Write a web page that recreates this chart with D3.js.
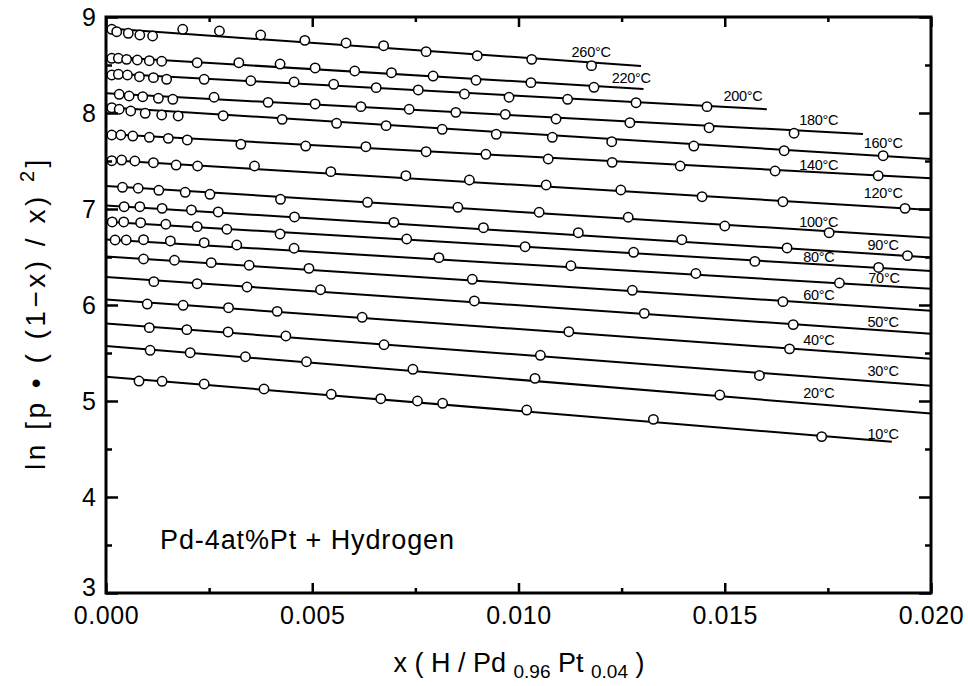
<!DOCTYPE html>
<html>
<head>
<meta charset="utf-8">
<script src="https://cdn.jsdelivr.net/npm/d3@7/dist/d3.min.js"></script>
<style>
  html, body { margin: 0; padding: 0; background: #fff; }
  svg { display: block; }
  text { font-family: "Liberation Sans", Arial, sans-serif; fill: #000; }
</style>
</head>
<body>
<svg id="chart" width="968" height="686"></svg>
<script>
// Temperatures (°C), top line to bottom line
const temps = [260, 220, 200, 180, 160, 140, 120, 100, 90, 80, 70, 60, 50, 40, 30, 20, 10];

// Measured points per isotherm: [x, ln(p·((1-x)/x)^2)]
const pts260 = [[0.00014,8.872],[0.00026,8.847],[0.00054,8.830],[0.00082,8.8125],[0.00113,8.802],[0.00186,8.872],[0.00275,8.854],[0.00375,8.8125],[0.00482,8.757],[0.00582,8.729],[0.00673,8.701],[0.00776,8.639],[0.00900,8.597],[0.01032,8.559],[0.01177,8.493]];
const pts220 = [[0.00014,8.570],[0.00030,8.570],[0.00050,8.559],[0.00076,8.552],[0.00105,8.545],[0.00135,8.539],[0.00221,8.524],[0.00322,8.524],[0.00422,8.510],[0.00507,8.469],[0.00603,8.4375],[0.00692,8.420],[0.00793,8.385],[0.00897,8.341],[0.01030,8.316],[0.01183,8.268]];
const pts200 = [[0.00014,8.396],[0.00030,8.403],[0.00052,8.396],[0.00081,8.378],[0.00115,8.368],[0.00147,8.351],[0.00238,8.351],[0.00351,8.336],[0.00456,8.323],[0.00552,8.299],[0.00655,8.264],[0.00757,8.240],[0.00869,8.198],[0.00977,8.164],[0.01119,8.143],[0.01285,8.107],[0.01457,8.066]];
const pts180 = [[0.00032,8.195],[0.00056,8.177],[0.00089,8.170],[0.00127,8.153],[0.00162,8.143],[0.00262,8.164],[0.00393,8.111],[0.00507,8.094],[0.00618,8.066],[0.00735,8.039],[0.00848,8.007],[0.00968,7.986],[0.01091,7.9375],[0.01270,7.899],[0.01462,7.847],[0.01668,7.789]];
const pts160 = [[0.00014,8.055],[0.00032,8.039],[0.00060,8.021],[0.00095,7.997],[0.00135,7.979],[0.00175,7.969],[0.00284,7.972],[0.00427,7.934],[0.00559,7.893],[0.00679,7.868],[0.00815,7.830],[0.00946,7.778],[0.01082,7.747],[0.01226,7.701],[0.01425,7.656],[0.01644,7.607],[0.01884,7.555]];
const pts140 = [[0.00014,7.771],[0.00036,7.771],[0.00065,7.760],[0.00105,7.747],[0.00151,7.736],[0.00197,7.719],[0.00327,7.674],[0.00484,7.656],[0.00630,7.649],[0.00776,7.597],[0.00921,7.570],[0.01072,7.521],[0.01227,7.486],[0.01392,7.448],[0.01622,7.396],[0.01872,7.347]];
const pts120 = [[0.00014,7.503],[0.00038,7.510],[0.00070,7.500],[0.00115,7.482],[0.00170,7.458],[0.00222,7.448],[0.00360,7.448],[0.00545,7.389],[0.00727,7.347],[0.00881,7.302],[0.01067,7.250],[0.01248,7.198],[0.01445,7.128],[0.01641,7.076],[0.01937,7.007]];
const pts100 = [[0.00040,7.226],[0.00078,7.216],[0.00128,7.195],[0.00192,7.174],[0.00252,7.153],[0.00423,7.101],[0.00634,7.070],[0.00853,7.018],[0.01050,6.966],[0.01266,6.914],[0.01500,6.823],[0.01753,6.753]];
const pts90 = [[0.00044,7.024],[0.00082,7.024],[0.00136,7.007],[0.00207,6.990],[0.00272,6.969],[0.00457,6.917],[0.00698,6.861],[0.00915,6.805],[0.01145,6.753],[0.01396,6.680],[0.01651,6.594],[0.01943,6.514]];
const pts80 = [[0.00015,6.865],[0.00043,6.865],[0.00084,6.857],[0.00145,6.841],[0.00221,6.816],[0.00293,6.789],[0.00422,6.740],[0.00729,6.6875],[0.01016,6.607],[0.01279,6.549],[0.01573,6.454],[0.01873,6.391]];
const pts70 = [[0.00022,6.677],[0.00049,6.677],[0.00091,6.680],[0.00156,6.667],[0.00238,6.649],[0.00317,6.625],[0.00456,6.591],[0.00807,6.493],[0.01127,6.409],[0.01430,6.328],[0.01778,6.229]];
const pts60 = [[0.00091,6.479],[0.00166,6.466],[0.00255,6.441],[0.00347,6.414],[0.00492,6.382],[0.00888,6.268],[0.01276,6.153],[0.01641,6.035]];
const pts50 = [[0.00116,6.243],[0.00221,6.222],[0.00342,6.1875],[0.00520,6.159],[0.00893,6.042],[0.01305,5.913],[0.01666,5.796]];
const pts40 = [[0.00100,6.010],[0.00187,5.997],[0.00297,5.972],[0.00415,5.934],[0.00621,5.872],[0.01122,5.722],[0.01657,5.543]];
const pts30 = [[0.00105,5.764],[0.00196,5.743],[0.00296,5.719],[0.00436,5.677],[0.00674,5.586],[0.01053,5.476],[0.01584,5.266]];
const pts20 = [[0.00107,5.528],[0.00204,5.503],[0.00338,5.461],[0.00486,5.409],[0.00744,5.330],[0.01040,5.236],[0.01488,5.062]];
const pts10 = [[0.00080,5.208],[0.00136,5.205],[0.00238,5.177],[0.00383,5.125],[0.00546,5.070],[0.00666,5.024],[0.00755,5.000],[0.00816,4.976],[0.01020,4.906],[0.01327,4.809],[0.01735,4.629]];

const points = [pts260, pts220, pts200, pts180, pts160, pts140, pts120, pts100, pts90, pts80, pts70, pts60, pts50, pts40, pts30, pts20, pts10];

// Fitted straight lines: [x start, y start, x end, y end]
const fits = [
  [0, 8.882, 0.01297, 8.490],
  [0, 8.586, 0.01303, 8.250],
  [0, 8.414, 0.01602, 8.039],
  [0, 8.205, 0.01835, 7.781],
  [0, 8.059, 0.02000, 7.521],
  [0, 7.781, 0.02000, 7.320],
  [0, 7.510, 0.02000, 6.990],
  [0, 7.240, 0.02000, 6.701],
  [0, 7.036, 0.02000, 6.496],
  [0, 6.868, 0.02000, 6.354],
  [0, 6.682, 0.02000, 6.169],
  [0, 6.505, 0.02000, 5.941],
  [0, 6.292, 0.02000, 5.701],
  [0, 6.057, 0.02000, 5.441],
  [0, 5.807, 0.02000, 5.159],
  [0, 5.573, 0.02000, 4.870],
  [0, 5.253, 0.01905, 4.576]
];

// Where each temperature label sits (data coordinates of its centre)
const labelAt = [
  [0.01176, 8.635], [0.01273, 8.365], [0.01544, 8.177], [0.01728, 7.927],
  [0.01884, 7.6875], [0.01728, 7.458], [0.01884, 7.167], [0.01728, 6.865],
  [0.01884, 6.625], [0.01728, 6.500], [0.01886, 6.281], [0.01728, 6.104],
  [0.01884, 5.823], [0.01728, 5.635], [0.01884, 5.3125], [0.01728, 5.083],
  [0.01884, 4.656]
];

const xTicks = [0.000, 0.005, 0.010, 0.015, 0.020];
const xMinor = [0.0025, 0.0075, 0.0125, 0.0175];
const yTicks = [3, 4, 5, 6, 7, 8, 9];
const yMinor = [3.5, 4.5, 5.5, 6.5, 7.5, 8.5];

const svg = d3.select("#chart");
const L = 106, R = 931, T = 17, B = 593;

const x = d3.scaleLinear().domain([0, 0.02]).range([L, R]);
const y = d3.scaleLinear().domain([3, 9]).range([B, T]);

// Plot contents, clipped to the frame
svg.append("defs").append("clipPath").attr("id", "plotclip")
  .append("rect").attr("x", L).attr("y", T).attr("width", R - L).attr("height", B - T);

const plot = svg.append("g").attr("clip-path", "url(#plotclip)");

plot.selectAll("line.fit").data(fits).join("line")
  .attr("class", "fit")
  .attr("x1", d => x(d[0])).attr("y1", d => y(d[1]))
  .attr("x2", d => x(d[2])).attr("y2", d => y(d[3]))
  .attr("stroke", "#000").attr("stroke-width", 2);

points.forEach(series => {
  plot.append("g").selectAll("circle").data(series).join("circle")
    .attr("cx", d => x(d[0])).attr("cy", d => y(d[1]))
    .attr("r", 4.7)
    .attr("fill", "#fff").attr("stroke", "#000").attr("stroke-width", 1.5);
});

// Temperature labels
svg.append("g").selectAll("text").data(temps).join("text")
  .attr("x", (d, i) => x(labelAt[i][0]))
  .attr("y", (d, i) => y(labelAt[i][1]))
  .attr("text-anchor", "middle")
  .attr("dominant-baseline", "central")
  .style("font-size", "14.5px")
  .style("letter-spacing", "-0.3px")
  .text(d => d + "°C");

// Axes with inward ticks on all four sides
function styleAxis(g) {
  g.select(".domain").remove();
  g.selectAll(".tick line").attr("stroke", "#000").attr("stroke-width", 2.5);
}

svg.append("g").attr("transform", `translate(0,${B})`)
  .call(d3.axisBottom(x).tickValues(xTicks).tickSize(-10).tickPadding(13).tickFormat(d3.format(".3f")))
  .call(styleAxis)
  .call(g => g.selectAll("text").style("font-size", "25px").style("letter-spacing", "0.6px").attr("font-family", null));

svg.append("g").attr("transform", `translate(0,${B})`)
  .call(d3.axisBottom(x).tickValues(xMinor).tickSize(-5).tickFormat(""))
  .call(styleAxis);

svg.append("g").attr("transform", `translate(0,${T})`)
  .call(d3.axisTop(x).tickValues(xTicks).tickSize(-10).tickFormat(""))
  .call(styleAxis);
svg.append("g").attr("transform", `translate(0,${T})`)
  .call(d3.axisTop(x).tickValues(xMinor).tickSize(-5).tickFormat(""))
  .call(styleAxis);

svg.append("g").attr("transform", `translate(${L},0)`)
  .call(d3.axisLeft(y).tickValues(yTicks).tickSize(-12).tickPadding(10).tickFormat(d3.format("d")))
  .call(styleAxis)
  .call(g => g.selectAll("text").style("font-size", "25px").attr("font-family", null))
  .call(g => g.selectAll(".tick").filter(d => d === 3).select("text").attr("dy", "0.08em"));
svg.append("g").attr("transform", `translate(${L},0)`)
  .call(d3.axisLeft(y).tickValues(yMinor).tickSize(-6).tickFormat(""))
  .call(styleAxis);

svg.append("g").attr("transform", `translate(${R},0)`)
  .call(d3.axisRight(y).tickValues(yTicks).tickSize(-12).tickFormat(""))
  .call(styleAxis);
svg.append("g").attr("transform", `translate(${R},0)`)
  .call(d3.axisRight(y).tickValues(yMinor).tickSize(-6).tickFormat(""))
  .call(styleAxis);

// Frame
svg.append("rect")
  .attr("x", L).attr("y", T).attr("width", R - L).attr("height", B - T)
  .attr("fill", "none").attr("stroke", "#000").attr("stroke-width", 3);

// Alloy / gas annotation
svg.append("text")
  .attr("x", 160).attr("y", y(3.55))
  .attr("dominant-baseline", "central")
  .style("font-size", "27px")
  .style("letter-spacing", "0.9px")
  .text("Pd-4at%Pt + Hydrogen");

// X-axis title with subscripts
const xt = svg.append("text")
  .attr("x", 519).attr("y", 672)
  .attr("text-anchor", "middle")
  .style("font-size", "27px");
xt.append("tspan").text("x  ( H / Pd ");
xt.append("tspan").attr("dy", 6).style("font-size", "19px").text("0.96");
xt.append("tspan").attr("dy", -6).text(" Pt ");
xt.append("tspan").attr("dy", 6).style("font-size", "19px").text("0.04");
xt.append("tspan").attr("dy", -6).text(" )");

// Y-axis title with superscript
const yt = svg.append("text")
  .attr("transform", `translate(45,313) rotate(-90)`)
  .attr("text-anchor", "middle")
  .style("font-size", "28px")
  .style("letter-spacing", "3.5px");
yt.append("tspan").text("ln  [p  •  (  (1−x) / x) ");
yt.append("tspan").attr("dy", -11).style("font-size", "20px").text("2");
yt.append("tspan").attr("dy", 11).text("]");
</script>
</body>
</html>
